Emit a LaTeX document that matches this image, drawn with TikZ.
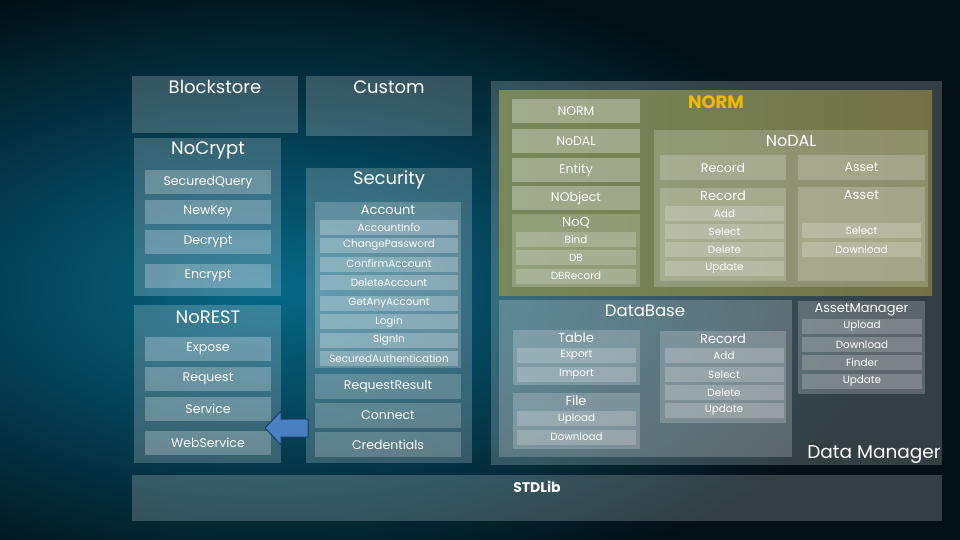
\documentclass[tikz,border=0pt]{standalone}
\usepackage{fontspec}
\setmainfont{Poppins}
\definecolor{bgdark}{RGB}{2,16,22}
\definecolor{bgglow}{RGB}{6,104,136}
\definecolor{normleft}{RGB}{120,136,92}
\definecolor{normright}{RGB}{114,114,70}
\definecolor{normgold}{RGB}{245,184,0}
\definecolor{arrowblue}{RGB}{74,127,193}
\definecolor{arrowedge}{RGB}{28,60,100}
\begin{document}
\begin{tikzpicture}[x=1pt,y=-1pt]
    \tikzset{% box and label styles
    panel/.style={anchor=north west,inner sep=0pt,outer sep=0pt,fill=white,fill opacity=0.2},
    item/.style={fill=white,fill opacity=0.25,text opacity=1,text=white,inner sep=0pt,outer sep=0pt},
    bar/.style={item,minimum width=126pt,minimum height=24pt,font=\fontsize{12.5}{15}\selectfont},
    acct/.style={item,minimum width=138pt,minimum height=15pt,font=\fontsize{10.4}{12}\selectfont},
    sec/.style={bar,minimum width=146pt,minimum height=25pt,fill opacity=0.2},
    ormbar/.style={bar,minimum width=128pt,fill opacity=0.3},
    hdr/.style={bar,minimum height=25pt,fill opacity=0.2},
    op/.style={acct,minimum width=119pt,fill opacity=0.2},
    ttl/.style={text=white,inner sep=0pt,font=\fontsize{18}{21}\selectfont},
    sub/.style={ttl,font=\fontsize{13}{15}\selectfont},
    }
    % Background
    \fill[bgdark] (0,0) rectangle (960,540);
    \begin{scope}
    \clip (0,0) rectangle (960,540);
    \shade[inner color=bgglow,outer color=bgdark] (270,290) ellipse (620 and 320);
    \end{scope}
    \useasboundingbox (0,0) rectangle (960,540);

    % Blockstore, Custom
    \node[panel,minimum width=166pt,minimum height=57pt] (blockstore) at (132,76) {};
    \node[ttl] (tblockstore) at (215,87) {Blockstore};
    \node[panel,minimum width=166pt,minimum height=60pt] (custom) at (306,76) {};
    \node[ttl] (tcustom) at (389,87) {Custom};

    % NoCrypt
    \node[panel,minimum width=147pt,minimum height=158pt] (nocrypt) at (134,138) {};
    \node[ttl] (tnocrypt) at (208,150) {NoCrypt};
    \node[bar] (securedquery) at (208,182) {SecuredQuery};
    \node[bar] (newkey) at (208,212) {NewKey};
    \node[bar] (decrypt) at (208,242) {Decrypt};
    \node[bar] (encrypt) at (208,276) {Encrypt};

    % NoREST
    \node[panel,minimum width=147pt,minimum height=158pt] (norest) at (134,305) {};
    \node[ttl] (tnorest) at (208,317) {NoREST};
    \node[bar] (expose) at (208,349) {Expose};
    \node[bar] (request) at (208,379) {Request};
    \node[bar] (service) at (208,409) {Service};
    \node[bar] (webservice) at (208,443) {WebService};

    % Security
    \node[panel,minimum width=166pt,minimum height=295pt] (security) at (306,168) {};
    \node[ttl] (tsecurity) at (389,180) {Security};
    \node[panel,minimum width=146pt,minimum height=166pt] (account) at (315,202) {};
    \node[sub] (taccount) at (388,210) {Account};
    \node[acct] (accountinfo) at (389,227.5) {AccountInfo};
    \node[acct] (changepassword) at (389,245.5) {ChangePassword};
    \node[acct] (confirmaccount) at (389,264) {ConfirmAccount};
    \node[acct] (deleteaccount) at (389,282.5) {DeleteAccount};
    \node[acct] (getanyaccount) at (389,303) {GetAnyAccount};
    \node[acct] (login) at (389,321.5) {Login};
    \node[acct] (signin) at (389,340) {SignIn};
    \node[acct] (securedauth) at (389,358.5) {SecuredAuthentication};
    \node[sec] (requestresult) at (388,386.5) {RequestResult};
    \node[sec] (connect) at (388,415.5) {Connect};
    \node[sec] (credentials) at (388,444.5) {Credentials};

    % Arrow towards WebService
    \draw[fill=arrowblue,draw=arrowedge,line width=1pt,line join=miter]
        (265,428) -- (281,411) -- (281,419) -- (308,419) -- (308,437)
        -- (281,437) -- (281,445) -- cycle;

    % Data Manager
    \node[panel,minimum width=451pt,minimum height=384pt] (datamanager) at (491,81) {};
    \node[ttl,anchor=east,font=\fontsize{18.5}{22}\selectfont] (tdatamanager) at (941,455) {Data Manager};

    % NORM
    \node[anchor=north west,inner sep=0pt,outer sep=0pt,left color=normleft,right color=normright,minimum width=433pt,minimum height=204pt] (norm) at (499,91) {};
    \node[ttl,text=normgold,font=\bfseries\fontsize{18}{21}\selectfont] (tnorm) at (716,102) {NORM};
    \node[ormbar] (normitem) at (576,111) {NORM};
    \node[ormbar] (nodalitem) at (576,141) {NoDAL};
    \node[ormbar] (entity) at (576,170) {Entity};
    \node[ormbar] (nobject) at (576,198) {NObject};
    \node[panel,minimum width=128pt,minimum height=73pt] (noq) at (512,214) {};
    \node[sub] (tnoq) at (576,223) {NoQ};
    \node[op,minimum width=120pt] (bind) at (576,239.5) {Bind};
    \node[op,minimum width=120pt] (db) at (576,257.5) {DB};
    \node[op,minimum width=120pt] (dbrecord) at (576,276) {DBRecord};

    % NoDAL
    \node[panel,minimum width=274pt,minimum height=157pt] (nodal) at (654,130) {};
    \node[ttl,font=\fontsize{16}{19}\selectfont] (tnodal) at (791,141) {NoDAL};
    \node[hdr] (recordhdr) at (723,167.5) {Record};
    \node[hdr,minimum width=127pt] (assethdr) at (861.5,167.5) {Asset};
    \node[panel,minimum width=126pt,minimum height=93pt] (record) at (660,188) {};
    \node[sub] (trecord) at (723,196) {Record};
    \node[op] (radd) at (724.5,213.5) {Add};
    \node[op] (rselect) at (724.5,231.5) {Select};
    \node[op] (rdelete) at (724.5,249.5) {Delete};
    \node[op] (rupdate) at (724.5,268.5) {Update};
    \node[panel,minimum width=127pt,minimum height=94pt] (asset) at (798,187) {};
    \node[sub] (tasset) at (861.5,195) {Asset};
    \node[op] (aselect) at (861.5,230.5) {Select};
    \node[op] (adownload) at (861.5,249.5) {Download};

    % DataBase
    \node[panel,minimum width=293pt,minimum height=157pt] (database) at (499,300) {};
    \node[ttl,font=\fontsize{16.5}{19}\selectfont] (tdatabase) at (645,311) {DataBase};
    \node[panel,minimum width=127pt,minimum height=55pt] (table) at (513,330) {};
    \node[sub] (ttable) at (576,338) {Table};
    \node[op] (export) at (576.5,355.5) {Export};
    \node[op] (import) at (576.5,374.5) {Import};
    \node[panel,minimum width=127pt,minimum height=56pt] (file) at (513,393) {};
    \node[sub] (tfile) at (576,401) {File};
    \node[op] (fupload) at (576.5,418.5) {Upload};
    \node[op] (fdownload) at (576.5,437) {Download};
    \node[panel,minimum width=126pt,minimum height=92pt] (dbrec) at (660,331) {};
    \node[sub] (tdbrec) at (723,339) {Record};
    \node[op] (dadd) at (724,355.5) {Add};
    \node[op] (dselect) at (724,374.5) {Select};
    \node[op] (ddelete) at (724,392.5) {Delete};
    \node[op] (dupdate) at (724,410.5) {Update};

    % AssetManager
    \node[panel,minimum width=127pt,minimum height=93pt] (assetmanager) at (798,301) {};
    \node[sub] (tassetmanager) at (861.5,310) {AssetManager};
    \node[op,minimum width=120pt] (mupload) at (862,326.5) {Upload};
    \node[op,minimum width=120pt] (mdownload) at (862,344.5) {Download};
    \node[op,minimum width=120pt] (mfinder) at (862,362.5) {Finder};
    \node[op,minimum width=120pt] (mupdate) at (862,381.5) {Update};

    % STDLib
    \node[panel,minimum width=810pt,minimum height=46pt] (stdlib) at (132,475) {};
    \node[ttl,font=\bfseries\fontsize{14}{17}\selectfont] (tstdlib) at (537,487) {STDLib};
\end{tikzpicture}
\end{document}
